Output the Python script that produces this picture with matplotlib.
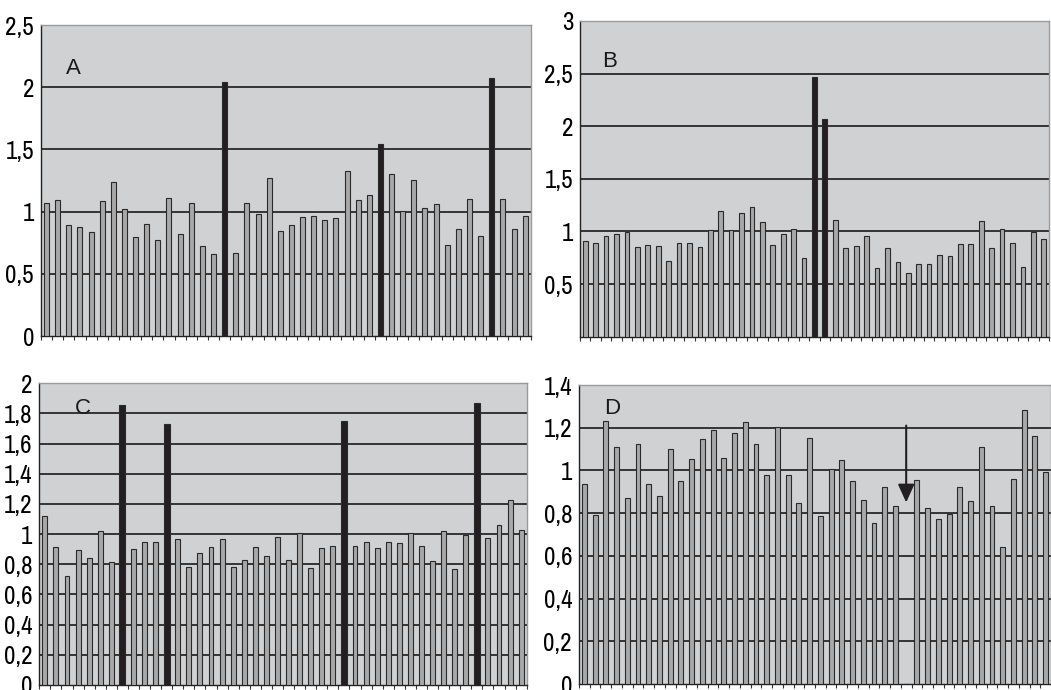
import numpy as np
import matplotlib
matplotlib.use("Agg")
import matplotlib.pyplot as plt
from matplotlib.ticker import FuncFormatter

# bar heights
a_vals = [1.067, 1.09, 0.89, 0.88, 0.84, 1.085, 1.235, 1.024, 0.797, 0.898, 0.773,
          1.107, 0.82, 1.067, 0.72, 0.66, 2.04, 0.668, 1.067, 0.98, 1.27, 0.848,
          0.896, 0.955, 0.963, 0.93, 0.947, 1.329, 1.09, 1.13, 1.545, 1.305, 1.008,
          1.251, 1.032, 1.059, 0.735, 0.861, 1.099, 0.802, 2.072, 1.099, 0.861, 0.963]
a_dark = [16, 30, 40]

b_vals = [0.909, 0.887, 0.957, 0.979, 0.991, 0.852, 0.874, 0.862, 0.722, 0.887, 0.887,
          0.852, 1.014, 1.191, 1.014, 1.178, 1.235, 1.087, 0.874, 0.979, 1.026, 0.748,
          2.47, 2.068, 1.105, 0.839, 0.862, 0.957, 0.653, 0.839, 0.71, 0.608, 0.687,
          0.687, 0.779, 0.77, 0.884, 0.884, 1.096, 0.839, 1.026, 0.893, 0.665, 0.991,
          0.925]
b_dark = [22, 23]

c_vals = [1.123, 0.917, 0.723, 0.895, 0.842, 1.019, 0.818, 1.859, 0.902, 0.946, 0.946,
          1.733, 0.968, 0.782, 0.873, 0.917, 0.968, 0.782, 0.827, 0.917, 0.857, 0.983,
          0.827, 1.006, 0.776, 0.908, 0.924, 1.748, 0.924, 0.946, 0.908, 0.946, 0.939,
          1.006, 0.924, 0.82, 1.019, 0.767, 0.997, 1.867, 0.975, 1.063, 1.229, 1.028]
c_dark = [7, 11, 27, 39]

d_vals = [0.935, 0.793, 1.233, 1.11, 0.869, 1.124, 0.935, 0.882, 1.1, 0.949, 1.054,
          1.149, 1.191, 1.058, 1.174, 1.228, 1.124, 0.977, 1.205, 0.977, 0.846, 1.153,
          0.788, 1.005, 1.049, 0.951, 0.86, 0.755, 0.921, 0.832, 0.0, 0.955, 0.823,
          0.774, 0.796, 0.921, 0.855, 1.111, 0.832, 0.641, 0.96, 1.281, 1.163, 0.991]
d_dark = []
d_arrow = 30

W, H = 1051, 690
BG = '#d0d1d3'
GRAY = '#a8a8a8'
DARK = '#231f20'

# narrow face for the tick numbers, falls back if not there
NARROW = ['Liberation Sans Narrow', 'Arial Narrow', 'Archivo Narrow', 'PT Sans Narrow',
          'Roboto Condensed', 'Liberation Sans', 'DejaVu Sans']
plt.rcParams['font.family'] = NARROW

fig = plt.figure(figsize=(W / 100, H / 100), dpi=100)
fig.patch.set_facecolor('white')


def comma(v, pos):
    s = ('%.1f' % v).rstrip('0').rstrip('.')
    return s.replace('.', ',')


def panel(box, vals, dark, ymax, ystep, label, lab_xy, xlim, zero_label=True, dark_w=0.48):
    l, r, t, b = box
    ax = fig.add_axes([l / W, 1 - b / H, (r - l) / W, (b - t) / H])
    ax.set_facecolor(BG)
    n = len(vals)
    x = np.arange(n)
    cols = [DARK if i in dark else GRAY for i in range(n)]
    widths = [dark_w if i in dark else 0.45 for i in range(n)]
    ax.bar(x, vals, width=widths, color=cols, edgecolor='#2a2a2a', linewidth=0.8, zorder=3)
    ax.set_xlim(*xlim)
    ax.set_ylim(0, ymax)
    yt = np.arange(0, ymax + ystep / 2, ystep)
    ax.set_yticks(yt)
    fmt = FuncFormatter(lambda v, p: '' if (v == 0 and not zero_label) else comma(v, p))
    ax.yaxis.set_major_formatter(fmt)
    for y in yt[1:-1]:
        ax.axhline(y, color='#1a1a1a', lw=1.2, zorder=1)
    ax.set_xticks(np.arange(-0.5, n + 0.5, 1))
    ax.set_xticklabels([])
    ax.tick_params(axis='x', length=3, width=0.8, color='#333333')
    ax.tick_params(axis='y', length=0, pad=5, labelsize=18)
    for s in ['top', 'right']:
        ax.spines[s].set_color('#9a9a9a')
        ax.spines[s].set_linewidth(1.0)
    for s in ['left', 'bottom']:
        ax.spines[s].set_color('#222222')
        ax.spines[s].set_linewidth(1.0)
    ax.text(lab_xy[0], lab_xy[1], label, transform=ax.transAxes, ha='center', va='center',
            fontsize=16, family=['Liberation Sans', 'DejaVu Sans'], color='#1a1a1a')
    return ax


panel((41, 530.7, 25, 336), a_vals, a_dark, 2.5, 0.5, 'A', (0.067, 0.859), (-0.5, 43.5))
panel((580, 1049, 21, 336.7), b_vals, b_dark, 3.0, 0.5, 'B', (0.064, 0.873), (-0.5, 44.5),
      zero_label=False)
panel((39.3, 526.7, 383.3, 685), c_vals, c_dark, 2.0, 0.2, 'C', (0.090, 0.918), (-0.5, 43.5),
      dark_w=0.54)
axd = panel((579, 1051, 385, 684), d_vals, d_dark, 1.4, 0.2, 'D', (0.070, 0.92), (-0.34, 43.36))

# arrow pointing at the missing bar in D
axd.annotate('', xy=(d_arrow, 0.85), xytext=(d_arrow, 1.21),
             arrowprops=dict(arrowstyle='-|>,head_length=0.55,head_width=0.25',
                             mutation_scale=20, color=DARK, lw=1.5,
                             shrinkA=0, shrinkB=0), zorder=5)

fig.savefig('out.png', dpi=100)
